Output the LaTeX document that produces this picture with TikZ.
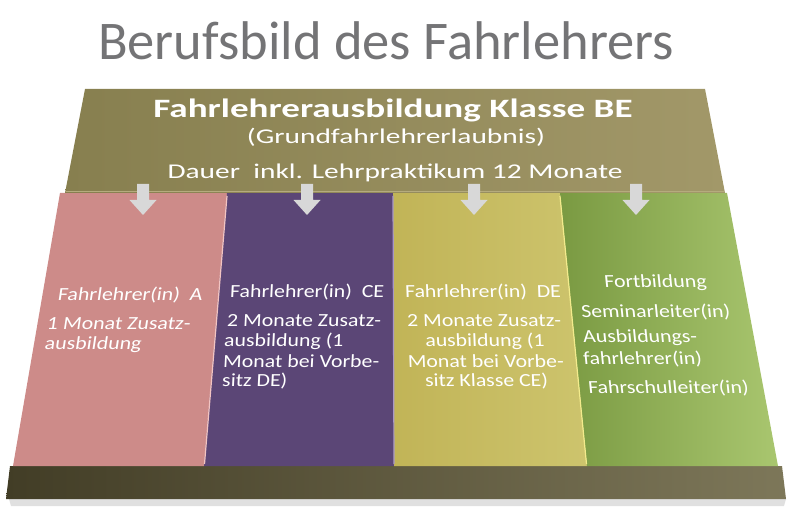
\documentclass[tikz,border=0pt]{standalone}
\usepackage{fontspec}
\setmainfont{Carlito}
\newfontfamily\headfont[FakeStretch=1.4]{Carlito}
\newfontfamily\colfont[FakeStretch=1.18]{Carlito}
\definecolor{oliveL}{HTML}{877F4F}
\definecolor{oliveR}{HTML}{A29869}
\definecolor{oliveEdge}{HTML}{B5AB7E}
\definecolor{pinkC}{HTML}{CD8B89}
\definecolor{pinkE}{HTML}{F2C4C2}
\definecolor{purpC}{HTML}{5B4676}
\definecolor{purpE}{HTML}{A897C6}
\definecolor{yelL}{HTML}{C1B457}
\definecolor{yelR}{HTML}{CDC46D}
\definecolor{yelE}{HTML}{F3EB8C}
\definecolor{grnL}{HTML}{7A9A42}
\definecolor{grnR}{HTML}{A9C66F}
\definecolor{plL}{HTML}{423D26}
\definecolor{plR}{HTML}{7D7759}
\definecolor{arrowgray}{HTML}{D8D8D8}
\definecolor{titlegray}{HTML}{747476}
\tikzset{
  downarr/.pic={\fill[arrowgray] (-6,0) -- (6,0) -- (6,16) -- (13.5,16) -- (0,31) -- (-13.5,16) -- (-6,16) -- cycle;},
  coltext/.style={text=white, font=\colfont\fontsize{18.5}{21}\selectfont, inner sep=0pt, transform shape},
  headtext/.style={text=white, inner sep=0pt}
}
\begin{document}
\begin{tikzpicture}[x=1pt,y=-1pt]
\useasboundingbox (0,0) rectangle (800,526);
% title
\node[text=titlegray, font=\fontsize{54.5}{60}\selectfont, inner sep=0pt] (title) at (386,41) {Berufsbild des Fahrlehrers};
% plinth
\fill[black!12] (9,499) -- (786,499) -- (784,506) -- (11,506) -- cycle;
\shade[left color=plL, right color=plR] (10,466) -- (782,466) -- (786,499) -- (6,499) -- cycle;
% columns
\fill[pinkC] (60,193) -- (227,193) -- (204,466) -- (13,466) -- cycle;
\fill[purpC] (227,193) -- (393,193) -- (394,466) -- (204,466) -- cycle;
\shade[left color=yelL, right color=yelR] (393,193) -- (560,193) -- (587,466) -- (394,466) -- cycle;
\shade[left color=grnL, right color=grnR] (560,193) -- (727,193) -- (778,466) -- (587,466) -- cycle;
\draw[pinkE, line width=1.2pt] (227,196) -- (204.5,464);
\draw[purpE, line width=1.2pt] (393,196) -- (394,464);
\draw[yelE, line width=1.2pt] (560,196) -- (586.5,464);
% top box
\shade[left color=oliveL, right color=oliveR] (85,89) -- (705,89) -- (725,193) -- (65,193) -- cycle;
\draw[oliveEdge, line width=1pt] (66,192) -- (724,192);
% arrows
\pic at (143,184) {downarr};
\pic at (307,184) {downarr};
\pic at (474,184) {downarr};
\pic at (636,184) {downarr};
% head texts
\node[headtext, font=\headfont\bfseries\fontsize{26.5}{30}\selectfont] (h1) at (393,110) {Fahrlehrerausbildung Klasse BE};
\node[headtext, font=\headfont\fontsize{21}{26}\selectfont] (h2) at (396,137) {(Grundfahrlehrerlaubnis)};
\node[headtext, font=\headfont\fontsize{21}{26}\selectfont] (h3) at (395,173) {Dauer\ \ inkl. Lehrpraktikum 12 Monate};
% pink column
\begin{scope}[shift={(58,295)}, xslant=0.15]
\node[coltext, anchor=west] (pa1) at (0,0) {Fahrlehrer(in)\ \ A};
\node[coltext, anchor=west] (pa2) at (-6.5,29) {1 Monat Zusatz-};
\node[coltext, anchor=west] (pa3) at (-5.8,50) {ausbildung};
\end{scope}
% purple column
\begin{scope}[shift={(230,292)}, xslant=0.05]
\node[coltext, anchor=west] (pb1) at (0,0) {Fahrlehrer(in)\ \ CE};
\node[coltext, anchor=west] (pb2) at (-1.5,29) {2 Monate Zusatz-};
\node[coltext, anchor=west] (pb3) at (-3.5,49) {ausbildung (1};
\node[coltext, anchor=west] (pb4) at (-3.5,69) {Monat bei Vorbe-};
\node[coltext, anchor=west] (pb5) at (-3.5,89) {sitz DE)};
\end{scope}
% yellow column
\begin{scope}[shift={(483,292)}, xslant=-0.04]
\node[coltext] (pc1) at (0,0) {Fahrlehrer(in)\ \ DE};
\node[coltext] (pc2) at (0,29) {2 Monate Zusatz-};
\node[coltext] (pc3) at (0,49) {ausbildung (1};
\node[coltext] (pc4) at (0,69) {Monat bei Vorbe-};
\node[coltext] (pc5) at (0,89) {sitz Klasse CE)};
\end{scope}
% green column
\begin{scope}[shift={(581,312)}, xslant=-0.1]
\node[coltext] (pd1) at (77.4,-29) {Fortbildung};
\node[coltext, anchor=west] (pd2) at (0,0) {Seminarleiter(in)};
\node[coltext, anchor=west] (pd3) at (-0.6,26) {Ausbildungs-};
\node[coltext, anchor=west] (pd4) at (-2.6,47) {fahrlehrer(in)};
\node[coltext, anchor=west] (pd5) at (-0.6,76) {Fahrschulleiter(in)};
\end{scope}
\end{tikzpicture}
\end{document}
